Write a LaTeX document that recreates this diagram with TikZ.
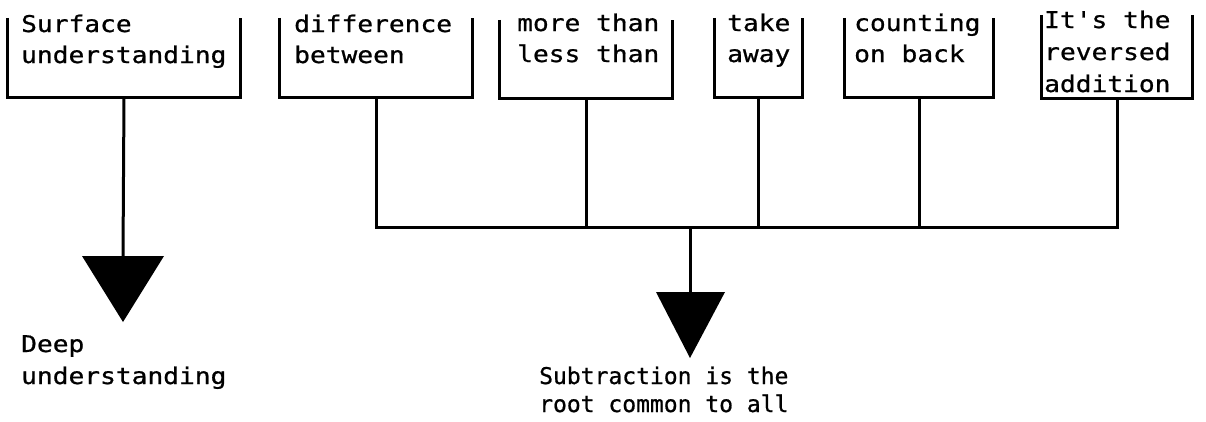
\documentclass[tikz,border=0pt]{standalone}
\usepackage{fontspec}
\newfontfamily\wideMono[FakeStretch=1.14,FakeBold=0.8]{DejaVu Sans Mono}
\newfontfamily\plainMono[FakeBold=0.8]{DejaVu Sans Mono}
\begin{document}
\begin{tikzpicture}[x=1pt,y=-1pt,
  ln/.style={line width=3pt},
  boxarea/.style={draw=none, inner sep=0pt, minimum width=#1},
  lbl/.style={anchor=base west, inner sep=0pt, align=left, font=\wideMono\fontsize{23}{31}\selectfont},
  lblb/.style={anchor=base west, inner sep=0pt, align=left, font=\plainMono\fontsize{23}{28}\selectfont},
  tri/.style={fill=black}
]
\useasboundingbox (0,0) rectangle (1206,421);
% open-top boxes
\node[boxarea=232pt, minimum height=79pt] (b1) at (124,57.5) {};
\node[boxarea=192pt, minimum height=79pt] (b2) at (376,57.5) {};
\node[boxarea=172pt, minimum height=78pt] (b3) at (586,59) {};
\node[boxarea=87pt,  minimum height=79pt] (b4) at (758.5,57.5) {};
\node[boxarea=148pt, minimum height=79pt] (b5) at (919,57.5) {};
\node[boxarea=150pt, minimum height=83pt] (b6) at (1117,56.5) {};
\foreach \b in {b1,b2,b3,b4,b5,b6}
  \draw[ln] (\b.north west) -- (\b.south west) -- (\b.south east) -- (\b.north east);
% texts in boxes (anchor = baseline of the last line)
\node[lbl] (s1) at (21,63) {Surface\\understanding};
\node[lbl] (s2) at (294,63) {difference\\between};
\node[lbl] (s3) at (517,62) {more than\\less than};
\node[lbl] (s4) at (727,62) {take\\away};
\node[lbl] (s5) at (854,62) {counting\\on back};
\node[lbl, font=\wideMono\fontsize{23}{32}\selectfont] (s6) at (1044,92) {It's the\\reversed\\addition};
% triangles
\coordinate (t1) at (123,256);
\coordinate (t2) at (690,292);
\fill[tri] (82,256) -- (164,256) -- (123,322) -- cycle;
\fill[tri] (656,292) -- (725,292) -- (690,358) -- cycle;
% connectors
\coordinate (bary) at (0,227);
\draw[ln] (b1.south) -- (t1);
\draw[ln] (b2.south) -- (b2.south |- bary) -- (b6.south |- bary) -- (b6.south);
\foreach \b in {b3,b4,b5}
  \draw[ln] (\b.south) -- (\b.south |- bary);
\draw[ln] (t2 |- bary) -- (t2);
% bottom labels
\node[lbl, font=\wideMono\fontsize{23}{32}\selectfont] (d1) at (21,384) {Deep\\understanding};
\node[lblb] (d2) at (539,412) {Subtraction is the\\root common to all};
\end{tikzpicture}
\end{document}
